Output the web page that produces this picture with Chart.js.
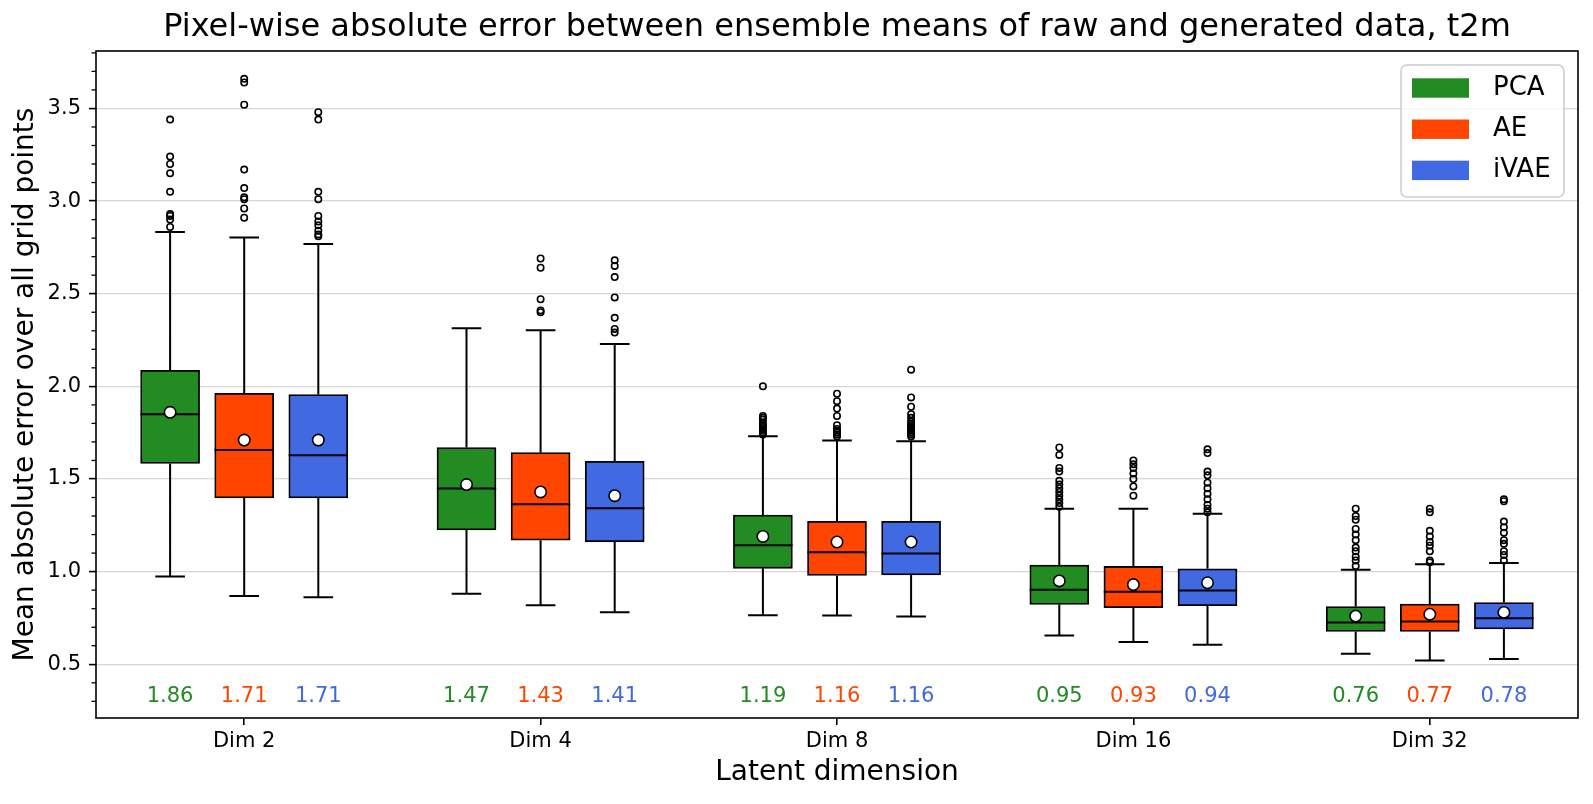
<!DOCTYPE html>
<html>
<head>
<meta charset="utf-8">
<script src="https://cdn.jsdelivr.net/npm/chart.js@4.4.1/dist/chart.umd.min.js"></script>
<style>
  html, body { margin: 0; padding: 0; background: #fff; }
</style>
</head>
<body>
<canvas id="chart" width="1593" height="804"></canvas>
<script>
var categories = ['Dim 2', 'Dim 4', 'Dim 8', 'Dim 16', 'Dim 32'];
var seriesNames = ['PCA', 'AE', 'iVAE'];
var seriesColors = ['#228B22', '#FF4500', '#4169E1'];

// box statistics
var pcaQ1 = [1.584, 1.225, 1.018, 0.823, 0.677];
var pcaMedian = [1.850, 1.449, 1.143, 0.902, 0.725];
var pcaQ3 = [2.087, 1.670, 1.305, 1.035, 0.812];
var pcaLow = [0.974, 0.880, 0.765, 0.655, 0.557];
var pcaHigh = [2.833, 2.314, 1.731, 1.339, 1.010];
var pcaMean = [1.86, 1.47, 1.19, 0.95, 0.76];
var pcaOutliers = [
    [3.44, 3.24, 3.20, 3.15, 3.05, 2.93, 2.92, 2.90, 2.86],
    [],
    [2.00, 1.84, 1.83, 1.82, 1.80, 1.79, 1.78, 1.77, 1.76, 1.75, 1.74],
    [1.67, 1.63, 1.56, 1.54, 1.49, 1.47, 1.45, 1.43, 1.41, 1.39, 1.37, 1.35],
    [1.34, 1.30, 1.28, 1.23, 1.20, 1.17, 1.13, 1.11, 1.08, 1.06, 1.03]
];

var aeQ1 = [1.398, 1.170, 0.979, 0.805, 0.677];
var aeMedian = [1.656, 1.364, 1.105, 0.891, 0.731];
var aeQ3 = [1.962, 1.643, 1.272, 1.028, 0.825];
var aeLow = [0.869, 0.819, 0.763, 0.620, 0.520];
var aeHigh = [2.804, 2.303, 1.708, 1.339, 1.040];
var aeMean = [1.71, 1.43, 1.16, 0.93, 0.77];
var aeOutliers = [
    [3.66, 3.64, 3.52, 3.17, 3.07, 3.02, 3.01, 2.96, 2.91],
    [2.69, 2.64, 2.47, 2.41, 2.40],
    [1.96, 1.92, 1.88, 1.84, 1.79, 1.77, 1.76, 1.75, 1.74, 1.73],
    [1.60, 1.58, 1.56, 1.53, 1.50, 1.46, 1.41],
    [1.34, 1.32, 1.22, 1.19, 1.16, 1.14, 1.11, 1.06, 1.05]
];

var ivaeQ1 = [1.398, 1.161, 0.982, 0.816, 0.691];
var ivaeMedian = [1.628, 1.342, 1.098, 0.898, 0.749];
var ivaeQ3 = [1.956, 1.595, 1.272, 1.015, 0.833];
var ivaeLow = [0.862, 0.781, 0.758, 0.605, 0.528];
var ivaeHigh = [2.768, 2.229, 1.704, 1.312, 1.046];
var ivaeMean = [1.71, 1.41, 1.16, 0.94, 0.78];
var ivaeOutliers = [
    [3.48, 3.44, 3.05, 3.01, 2.92, 2.89, 2.87, 2.84, 2.82, 2.81],
    [2.68, 2.65, 2.59, 2.48, 2.37, 2.31, 2.29],
    [2.09, 1.94, 1.89, 1.85, 1.83, 1.81, 1.80, 1.79, 1.78, 1.77, 1.76, 1.75, 1.74, 1.73],
    [1.66, 1.64, 1.54, 1.52, 1.48, 1.45, 1.42, 1.39, 1.36, 1.34, 1.32],
    [1.39, 1.38, 1.27, 1.24, 1.21, 1.17, 1.15, 1.11, 1.09, 1.06]
];

var yTickStep = 0.5;

var series = [
    {q1: pcaQ1, med: pcaMedian, q3: pcaQ3, lo: pcaLow, hi: pcaHigh, mean: pcaMean, out: pcaOutliers},
    {q1: aeQ1, med: aeMedian, q3: aeQ3, lo: aeLow, hi: aeHigh, mean: aeMean, out: aeOutliers},
    {q1: ivaeQ1, med: ivaeMedian, q3: ivaeQ3, lo: ivaeLow, hi: ivaeHigh, mean: ivaeMean, out: ivaeOutliers}
];

Chart.defaults.font.family = '"DejaVu Sans", sans-serif';
Chart.defaults.color = '#000';

// centre of box k inside group g, on the linear x axis (groups sit at 0..4)
function boxPos(g, k) {
    return g + (k - 1) * 0.25;
}

// whiskers, caps and medians as broken line segments
function boxLines(s, k) {
    var pts = [];
    var gap = function (x) { pts.push({x: x, y: null}); };
    categories.forEach(function (c, g) {
        var x = boxPos(g, k);
        pts.push({x: x, y: s.q3[g]}, {x: x, y: s.hi[g]}); gap(x);
        pts.push({x: x - 0.05, y: s.hi[g]}, {x: x + 0.05, y: s.hi[g]}); gap(x);
        pts.push({x: x, y: s.q1[g]}, {x: x, y: s.lo[g]}); gap(x);
        pts.push({x: x - 0.05, y: s.lo[g]}, {x: x + 0.05, y: s.lo[g]}); gap(x);
        pts.push({x: x - 0.1, y: s.med[g]}, {x: x + 0.1, y: s.med[g]}); gap(x);
    });
    return pts;
}

var datasets = [];
series.forEach(function (s, k) {
    datasets.push({
        type: 'bar',
        label: seriesNames[k],
        data: categories.map(function (c, g) { return {x: boxPos(g, k), y: [s.q1[g], s.q3[g]]}; }),
        backgroundColor: seriesColors[k],
        borderColor: '#000',
        borderWidth: 1.8,
        borderSkipped: false,
        grouped: false,
        barThickness: 59,
        order: 3
    });
});
series.forEach(function (s, k) {
    datasets.push({
        type: 'line',
        label: seriesNames[k] + ' whiskers',
        data: boxLines(s, k),
        borderColor: '#000',
        borderWidth: 2,
        pointRadius: 0,
        fill: false,
        spanGaps: false,
        order: 2
    });
    var fliers = [];
    s.out.forEach(function (vals, g) {
        vals.forEach(function (v) { fliers.push({x: boxPos(g, k), y: v}); });
    });
    datasets.push({
        type: 'scatter',
        label: seriesNames[k] + ' outliers',
        data: fliers,
        pointRadius: 3.2,
        pointBorderWidth: 1.6,
        backgroundColor: 'rgba(0,0,0,0)',
        pointBackgroundColor: 'rgba(0,0,0,0)',
        borderColor: '#000',
        pointBorderColor: '#000',
        order: 1
    });
    datasets.push({
        type: 'scatter',
        label: seriesNames[k] + ' mean',
        data: s.mean.map(function (v, g) { return {x: boxPos(g, k), y: v}; }),
        pointRadius: 5.7,
        pointBorderWidth: 1.6,
        backgroundColor: '#fff',
        pointBackgroundColor: '#fff',
        borderColor: '#000',
        pointBorderColor: '#000',
        order: 0
    });
});

// frame, minor ticks, mean labels and the legend box
var extras = {
    id: 'extras',
    afterDraw: function (chart) {
        var ctx = chart.ctx, area = chart.chartArea;
        var x = chart.scales.x, y = chart.scales.y;
        ctx.save();

        ctx.strokeStyle = '#000';
        ctx.lineWidth = 1.3;
        for (var i = 1; i < 40; i++) {
            if (i % 5 === 0) continue;
            var py = y.getPixelForValue(i / 10);
            if (py < area.top || py > area.bottom) continue;
            ctx.beginPath();
            ctx.moveTo(area.left - 4.5, py);
            ctx.lineTo(area.left, py);
            ctx.stroke();
        }

        ctx.lineWidth = 1.6;
        ctx.strokeRect(area.left, area.top, area.right - area.left, area.bottom - area.top);

        ctx.font = '21px "DejaVu Sans"';
        ctx.textAlign = 'center';
        ctx.textBaseline = 'middle';
        var labelY = y.getPixelForValue(0.326);
        series.forEach(function (s, k) {
            ctx.fillStyle = seriesColors[k];
            s.mean.forEach(function (v, g) {
                ctx.fillText(v.toFixed(2), x.getPixelForValue(boxPos(g, k)), labelY);
            });
        });

        var lw = 163, lh = 132;
        var lx = area.right - 14 - lw, ly = area.top + 14;
        ctx.fillStyle = 'rgba(255,255,255,0.8)';
        ctx.strokeStyle = '#cccccc';
        ctx.lineWidth = 1.5;
        ctx.beginPath();
        ctx.roundRect(lx, ly, lw, lh, 6);
        ctx.fill();
        ctx.stroke();
        ctx.font = '26px "DejaVu Sans"';
        ctx.textAlign = 'left';
        seriesNames.forEach(function (name, k) {
            var cy = ly + 23 + k * 41.2;
            ctx.fillStyle = seriesColors[k];
            ctx.fillRect(lx + 11, cy - 9.7, 57, 19.4);
            ctx.fillStyle = '#000';
            ctx.fillText(name, lx + 92, cy);
        });
        ctx.restore();
    }
};

new Chart(document.getElementById('chart'), {
    type: 'bar',
    data: {datasets: datasets},
    options: {
        responsive: false,
        animation: false,
        layout: {padding: {left: 0, right: 15, top: 0, bottom: 0}},
        plugins: {
            legend: {display: false},
            tooltip: {enabled: false},
            title: {
                display: true,
                fullSize: false,
                text: 'Pixel-wise absolute error between ensemble means of raw and generated data, t2m',
                font: {size: 32, weight: 'normal'},
                color: '#000',
                padding: {top: 8, bottom: 4.6}
            }
        },
        scales: {
            x: {
                type: 'linear',
                min: -0.5,
                max: 4.5,
                offset: false,
                grid: {drawOnChartArea: false, offset: false, tickLength: 7, tickColor: '#000', lineWidth: 1.6},
                border: {display: false},
                afterBuildTicks: function (s) {
                    s.ticks = categories.map(function (c, g) { return {value: g}; });
                },
                ticks: {
                    autoSkip: false,
                    font: {size: 21},
                    padding: 4,
                    maxRotation: 0,
                    color: '#000',
                    callback: function (v) { return categories[v]; }
                },
                title: {display: true, text: 'Latent dimension', font: {size: 28}, color: '#000', padding: {top: 0, bottom: 14}},
                afterFit: function (s) { s.height = 86; }
            },
            y: {
                type: 'linear',
                min: 0.21,
                max: 3.81,
                grid: {color: '#d6d6d6', lineWidth: 1.2, tickLength: 7, tickColor: '#000', tickWidth: 1.6},
                border: {display: false},
                ticks: {
                    stepSize: yTickStep,
                    includeBounds: false,
                    font: {size: 21},
                    padding: 8,
                    color: '#000',
                    callback: function (v) { return v.toFixed(1); }
                },
                title: {display: true, text: 'Mean absolute error over all grid points', font: {size: 28}, color: '#000', padding: {top: 9}},
                afterFit: function (s) { s.width = 96; }
            }
        }
    },
    plugins: [extras]
});
</script>
</body>
</html>
